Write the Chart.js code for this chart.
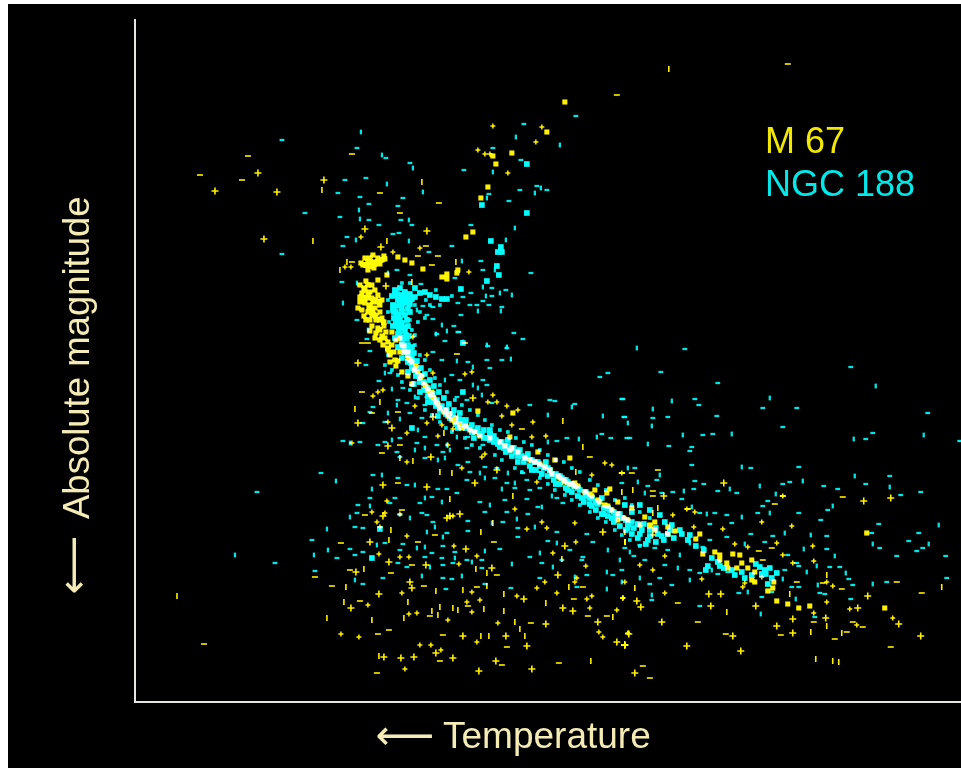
<!DOCTYPE html>
<html><head><meta charset="utf-8">
<style>
html,body{margin:0;padding:0;background:#fff;overflow:hidden}
#wrap{position:absolute;left:8px;top:4px;width:953px;height:764px;background:#000;overflow:hidden}
canvas{display:block;filter:blur(0.4px)}
</style>
<script src="https://cdn.jsdelivr.net/npm/chart.js@4"></script>
</head><body><div id="wrap"><canvas id="c" width="959" height="764"></canvas></div>
<script>
// Values. x: temperature position (arbitrary, no ticks), y: magnitude position (grows downward).
const seriesNames = ["M 67", "NGC 188"];
const xTitle = "Temperature", yTitle = "Absolute magnitude", arrowGlyph = "\u27F5";

const m67Cross = [[258,173],[277,192],[324,180],[365,229],[427,231],[381,247],[264,239],[215,191],[386,286],[358,363],[433,417],[358,423],[392,428],[473,398],[388,446],[431,457],[497,470],[475,483],[383,485],[427,487],[450,516],[447,518],[460,514],[383,516],[370,542],[603,532],[565,546],[466,549],[389,562],[426,565],[356,572],[492,568],[558,575],[410,582],[412,588],[379,594],[524,599],[351,608],[563,608],[573,611],[546,624],[598,622],[617,642],[625,645],[463,636],[506,636],[527,646],[436,653],[384,657],[401,658],[414,657],[453,658],[496,661],[479,671],[532,669],[664,496],[724,483],[864,501],[709,594],[637,601],[641,607],[868,596],[858,608],[662,622],[921,636],[625,645],[687,646],[741,651],[635,673],[629,634],[793,633],[891,498],[756,606],[721,594],[733,636],[711,606],[899,624],[793,619],[777,626],[826,618]];
const m67Dash = [[248,156],[200,175],[242,180],[352,154],[380,193],[439,203],[400,213],[426,246],[418,256],[438,256],[352,262],[432,265],[788,64],[617,95],[204,644],[362,343],[368,343],[362,392],[372,413],[398,412],[457,354],[465,343],[382,453],[400,445],[522,429],[398,483],[365,515],[402,510],[418,542],[435,535],[341,543],[494,542],[412,565],[350,570],[315,577],[391,573],[497,575],[332,586],[424,586],[477,587],[583,587],[360,601],[574,599],[468,606],[430,616],[531,623],[588,616],[607,616],[378,634],[389,630],[443,635],[507,647],[440,661],[502,665],[559,663],[377,673],[590,457],[622,473],[658,470],[632,473],[622,473],[653,491],[653,496],[843,497],[783,496],[775,504],[759,551],[772,548],[797,582],[823,583],[897,582],[842,589],[678,603],[922,593],[698,622],[814,622],[853,622],[863,627],[726,634],[781,635],[847,632],[835,639],[643,666],[650,678],[891,647],[688,509],[763,560]];
const m67Tick = [[669,69],[177,596],[322,190],[313,241],[422,182],[387,241],[347,262],[340,270],[456,262],[412,282],[380,402],[355,409],[444,433],[400,458],[413,461],[440,472],[452,473],[513,496],[450,499],[391,530],[389,540],[481,532],[493,523],[625,532],[625,542],[562,559],[364,569],[476,569],[487,573],[346,587],[436,591],[463,590],[487,586],[504,594],[569,587],[344,602],[408,602],[546,603],[440,607],[453,608],[458,610],[484,609],[504,611],[327,618],[372,620],[404,618],[432,611],[438,615],[515,622],[520,629],[613,617],[481,636],[489,636],[525,636],[379,656],[591,661],[658,508],[625,542],[635,588],[790,594],[827,575],[942,587],[827,626],[811,632],[842,633],[816,659],[833,661],[839,662],[563,421],[583,447],[576,472],[633,490],[653,513],[727,612],[622,492]];
const m67Hook = [[361,237],[393,252],[420,248],[345,267],[351,267],[493,126],[478,150],[485,154],[490,154],[508,173],[536,142],[542,127],[469,272],[373,396],[378,392],[383,390],[415,406],[413,337],[427,355],[433,373],[465,374],[472,372],[407,433],[388,422],[427,423],[442,425],[438,436],[453,429],[488,402],[497,402],[493,395],[507,406],[502,416],[518,410],[512,425],[533,422],[532,437],[546,436],[352,443],[448,445],[482,457],[485,454],[407,462],[462,468],[537,482],[387,501],[385,513],[372,512],[400,514],[377,522],[380,527],[453,516],[407,536],[515,509],[527,529],[547,528],[542,522],[575,523],[576,542],[553,553],[454,546],[409,557],[400,557],[379,554],[477,556],[459,564],[586,566],[577,578],[575,582],[545,582],[537,588],[472,592],[402,593],[517,596],[557,593],[623,598],[592,596],[587,599],[480,600],[467,602],[368,605],[472,612],[590,608],[617,610],[409,614],[417,613],[448,620],[498,623],[628,633],[599,632],[603,637],[341,634],[359,637],[477,642],[420,645],[431,645],[441,650],[405,669],[592,475],[605,463],[612,465],[622,473],[687,509],[695,512],[673,515],[762,522],[792,526],[694,527],[723,529],[735,544],[748,547],[777,543],[813,546],[783,555],[793,563],[814,561],[762,577],[745,583],[743,587],[827,582],[833,586],[665,556],[640,565],[653,570],[665,593],[625,582],[702,579],[623,598],[827,602],[814,613],[850,609],[893,618],[857,625],[783,496],[653,535]];
const m67Blob = [[565,102],[547,132],[493,156],[512,153],[496,164],[488,187],[481,198],[473,232],[466,237],[398,257],[405,260],[412,263],[423,269],[447,274],[442,277],[447,279],[458,270],[457,273],[387,275],[370,258],[373,255],[372,262],[377,262],[382,260],[366,265],[371,266],[375,264],[363,265],[368,270],[385,259],[361,263],[368,285],[372,285],[365,290],[370,292],[375,290],[378,295],[362,293],[372,298],[367,298],[378,302],[365,303],[370,305],[375,308],[380,305],[362,310],[368,312],[374,314],[380,312],[364,316],[370,320],[376,320],[382,318],[372,326],[378,328],[384,326],[376,333],[382,336],[386,332],[380,340],[383,345],[388,350],[390,355],[395,360],[388,348],[390,353],[398,361],[378,280],[360,302],[366,281],[358,308],[513,413],[478,411],[460,427],[510,437],[570,458],[555,460],[538,452],[575,483],[565,482],[607,493],[610,489],[595,490],[618,502],[618,520],[632,508],[645,517],[655,522],[668,527],[675,531],[650,525],[700,534],[696,539],[867,533],[703,554],[715,552],[720,555],[733,554],[740,555],[720,560],[752,560],[727,563],[728,568],[742,563],[737,568],[748,568],[755,572],[752,580],[755,582],[768,591],[774,582],[773,588],[777,601],[788,604],[799,608],[810,606],[885,608],[402,345],[408,358],[414,370],[420,378],[428,390],[436,402],[444,412],[452,420],[470,430],[490,438],[505,446],[518,452],[530,460],[545,467],[558,476],[570,484],[585,492],[598,500],[612,510],[624,518],[640,525],[655,530],[668,534],[400,352],[396,340],[392,332],[432,396],[460,424],[365,258],[378,258],[368,262],[380,264],[374,268],[384,256],[360,285],[364,288],[368,295],[373,302],[364,298],[360,297],[369,308],[376,300],[382,300],[372,310],[376,316],[366,320],[372,315],[380,320],[384,322],[370,331],[375,338],[380,330],[385,338],[388,342],[392,345],[394,352],[396,366],[402,372],[408,376],[412,384],[390,362],[400,338],[404,346],[408,352],[412,362],[418,372],[424,384],[430,394],[434,398],[440,408],[448,416],[455,422],[462,428],[510,450],[525,458],[552,474],[564,480],[578,486],[592,496],[605,505],[618,514],[404,352],[410,360],[416,366],[422,376],[426,386],[432,392],[438,404],[446,410],[450,414],[456,418],[466,426],[475,432],[480,436],[500,442],[512,448],[535,462],[540,464],[550,470],[560,478],[575,486],[590,494],[600,502],[608,506],[628,520],[650,526]];

const ngcDash = [[361,132],[282,140],[357,148],[382,155],[386,158],[410,163],[413,168],[493,148],[524,124],[516,137],[521,160],[464,170],[493,172],[345,180],[366,178],[387,184],[338,193],[360,197],[423,192],[403,198],[537,186],[541,188],[547,190],[520,190],[535,193],[509,201],[489,194],[487,198],[369,204],[398,206],[359,210],[305,213],[340,217],[360,219],[369,220],[401,220],[409,220],[412,225],[379,225],[515,228],[471,225],[347,237],[356,240],[393,234],[399,233],[409,241],[343,246],[452,246],[506,240],[282,254],[429,252],[462,261],[481,261],[483,270],[495,270],[531,273],[397,270],[388,273],[410,275],[342,282],[357,283],[421,284],[455,278],[483,287],[492,288],[506,290],[512,295],[471,293],[463,297],[486,296],[483,301],[492,296],[500,293],[470,305],[477,305],[478,311],[489,305],[502,307],[501,311],[458,303],[461,315],[343,303],[423,306],[433,307],[417,310],[427,315],[433,319],[442,325],[454,326],[437,334],[447,331],[458,332],[445,341],[463,342],[514,333],[523,339],[487,345],[507,348],[357,320],[368,330],[367,339],[576,116],[560,145],[370,351],[366,365],[385,373],[390,373],[379,381],[392,389],[403,388],[412,385],[436,334],[459,332],[488,346],[507,347],[433,352],[442,360],[457,361],[468,362],[487,360],[473,367],[490,368],[502,360],[511,359],[608,373],[600,377],[445,380],[452,375],[460,380],[473,385],[483,380],[487,385],[478,388],[457,397],[467,400],[482,395],[492,403],[530,405],[548,415],[550,400],[555,401],[572,407],[575,404],[622,399],[603,416],[625,417],[602,434],[597,437],[611,438],[627,438],[579,439],[567,438],[557,441],[548,442],[373,407],[370,412],[388,413],[398,400],[407,403],[415,397],[425,405],[427,397],[397,405],[410,413],[422,418],[400,419],[385,422],[363,423],[418,430],[425,437],[437,445],[447,445],[343,441],[360,442],[350,443],[378,445],[385,442],[392,440],[400,438],[417,443],[415,450],[397,452],[400,457],[425,448],[425,458],[443,452],[450,450],[467,448],[483,445],[457,437],[468,437],[473,433],[438,460],[468,462],[458,465],[445,458],[485,467],[497,468],[508,473],[523,473],[540,472],[480,473],[470,472],[467,480],[485,478],[495,478],[507,483],[515,483],[527,480],[515,488],[502,489],[540,488],[530,490],[552,496],[563,503],[557,498],[542,507],[527,499],[505,500],[490,505],[480,502],[507,512],[517,519],[528,514],[538,507],[336,481],[321,473],[373,475],[382,475],[398,478],[407,485],[415,485],[438,489],[447,489],[372,489],[395,498],[370,498],[425,498],[432,497],[420,503],[442,502],[457,493],[358,505],[370,506],[390,503],[422,513],[350,517],[357,513],[400,515],[410,518],[427,515],[433,522],[435,527],[468,521],[485,512],[492,523],[503,522],[518,528],[535,527],[557,532],[587,534],[327,529],[363,528],[355,527],[427,532],[447,533],[468,531],[443,537],[518,537],[548,541],[557,543],[593,542],[312,540],[377,545],[385,543],[403,544],[425,547],[443,546],[350,549],[328,550],[363,552],[355,555],[314,555],[337,558],[400,550],[417,548],[432,553],[455,552],[485,551],[500,549],[530,557],[540,553],[570,550],[583,557],[608,550],[425,557],[442,558],[455,558],[467,560],[482,560],[512,564],[398,563],[407,567],[430,567],[443,565],[453,563],[472,562],[482,568],[542,563],[553,567],[562,560],[582,560],[607,572],[622,570],[315,571],[355,580],[363,584],[383,578],[422,576],[443,578],[452,579],[462,576],[485,584],[540,578],[575,577],[587,575],[613,575],[622,582],[511,588],[446,589],[607,589],[577,587],[257,492],[235,555],[275,563],[685,349],[637,348],[661,372],[851,367],[876,386],[718,383],[623,399],[672,401],[695,399],[699,405],[770,398],[763,408],[797,408],[653,409],[653,418],[624,417],[628,423],[668,417],[717,416],[652,426],[928,413],[783,427],[683,435],[703,435],[713,434],[732,434],[630,438],[669,446],[648,444],[692,447],[690,451],[854,439],[866,439],[873,433],[924,435],[960,441],[692,465],[742,467],[751,468],[799,467],[628,468],[635,468],[622,483],[638,482],[657,480],[648,486],[660,475],[695,481],[704,484],[684,491],[694,489],[718,491],[730,489],[737,493],[673,492],[645,493],[662,493],[682,499],[760,486],[783,484],[790,482],[803,481],[824,486],[838,489],[855,476],[866,484],[890,476],[890,487],[901,495],[921,492],[776,494],[768,501],[763,506],[833,506],[828,510],[758,513],[770,513],[799,513],[821,520],[707,514],[715,513],[727,515],[742,517],[732,523],[710,524],[692,507],[700,513],[879,524],[939,525],[872,533],[919,533],[811,535],[827,536],[773,536],[785,533],[751,534],[727,537],[873,544],[880,548],[909,541],[929,544],[923,548],[917,551],[804,549],[765,542],[827,549],[835,556],[897,556],[946,556],[690,543],[703,547],[710,540],[745,544],[788,555],[797,563],[817,566],[830,567],[840,567],[846,573],[849,579],[853,585],[818,585],[820,593],[825,594],[807,572],[799,566],[785,570],[783,579],[792,587],[799,587],[873,584],[887,582],[947,578],[796,599],[851,599],[739,593],[748,592],[762,597],[772,592],[761,614],[815,617],[700,606],[652,595],[652,600],[640,545],[630,552],[655,548],[668,550],[680,555],[645,560],[665,565],[678,568],[690,570],[700,573],[712,570],[718,574],[728,572],[640,578],[660,578],[672,585],[690,580],[625,548],[634,556],[620,560],[650,584]];
const ngcFlank = [[415,345],[420,355],[408,340],[425,360],[385,365],[392,370],[398,375],[430,370],[435,378],[402,382],[410,390],[440,385],[447,392],[418,398],[425,410],[432,415],[455,400],[462,405],[470,410],[478,415],[440,422],[446,428],[452,432],[485,420],[492,425],[500,430],[465,438],[472,445],[480,448],[508,432],[516,438],[524,442],[495,455],[502,460],[532,445],[540,450],[548,455],[515,468],[522,472],[556,460],[564,462],[572,468],[580,472],[540,478],[548,484],[555,490],[590,480],[598,485],[606,490],[565,495],[572,500],[580,505],[615,500],[625,498],[632,505],[590,512],[598,518],[606,522],[615,530],[622,535],[640,512],[650,518],[630,540],[640,546],[412,330],[418,322],[425,318],[420,312],[430,305],[415,305],[440,305],[388,355],[452,296],[426,300],[436,290],[410,283],[402,283],[388,300],[388,312],[389,322],[410,320],[415,335]];
const ngcBlob = [[527,164],[482,205],[527,213],[491,241],[501,247],[498,252],[502,252],[497,266],[499,275],[487,281],[461,289],[463,343],[463,392],[412,428],[380,529],[372,558],[393,310],[397,318],[393,326],[399,330],[395,338],[402,340],[398,347],[405,352],[402,358],[408,362],[412,368],[408,372],[416,376],[420,382],[414,384],[424,390],[428,396],[420,392],[432,402],[436,406],[428,402],[440,410],[446,414],[438,416],[450,418],[456,424],[462,420],[466,428],[472,432],[458,428],[480,434],[484,438],[474,438],[490,440],[494,436],[498,444],[504,448],[490,430],[510,450],[516,452],[508,440],[522,456],[528,454],[518,462],[535,462],[540,466],[532,470],[548,468],[552,474],[546,462],[560,476],[566,480],[556,484],[572,484],[578,488],[568,490],[586,492],[590,498],[582,498],[596,502],[602,498],[592,506],[608,508],[614,512],[604,514],[620,514],[626,520],[612,518],[632,522],[638,524],[628,528],[644,524],[650,530],[640,534],[656,528],[662,536],[648,540],[668,534],[395,290],[400,288],[405,292],[410,294],[415,297],[420,293],[425,292],[430,295],[436,297],[442,299],[447,299],[395,295],[398,300],[393,305],[400,305],[396,312],[402,312],[394,318],[400,320],[398,326],[404,328],[400,335],[406,335],[403,342],[408,345],[405,350],[410,352],[412,358],[403,298],[408,300],[415,288],[632,512],[640,505],[650,510],[660,515],[665,522],[625,505],[672,525],[680,530],[690,535],[765,570],[760,567],[770,568],[777,573],[766,574],[762,574],[706,570],[720,566],[735,575],[745,578],[392,296],[397,294],[402,295],[407,297],[412,299],[400,300],[405,303],[410,304],[396,306],[402,308],[408,309],[394,312],[399,315],[405,315],[410,312],[396,322],[402,323],[407,320],[400,328],[405,330],[408,326],[398,334],[404,338],[409,336],[402,346],[407,350],[412,347],[408,355],[414,353],[411,363],[417,361],[415,370],[421,368],[419,376],[425,374],[424,382],[430,380],[428,388],[434,386],[433,394],[439,392],[437,400],[444,398],[442,406],[449,404],[447,410],[454,410],[453,414],[460,413],[459,419],[466,420],[465,425],[472,425],[470,428],[478,428],[476,431],[484,430],[482,434],[490,434],[488,438],[496,440],[494,442],[502,442],[500,447],[508,446],[506,452],[514,448],[512,456],[520,450],[518,456],[526,458],[524,462],[532,460],[530,466],[538,462],[536,470],[544,468],[542,474],[550,470],[548,476],[556,474],[554,480],[562,478],[560,484],[568,482],[566,488],[574,486],[572,492],[580,490],[578,496],[586,496],[584,502],[592,498],[590,504],[598,504],[596,510],[604,508],[602,514],[610,510],[608,516],[616,516],[614,522],[622,518],[620,526],[628,524],[626,530],[634,528],[632,534],[642,530],[638,538],[650,536],[646,544],[658,534],[656,542],[664,540],[670,530],[674,538],[682,534],[688,540],[696,546],[704,550],[712,558],[718,562],[708,566],[724,568],[732,570],[742,572],[752,575],[756,564],[772,578],[768,584]];

const MINX = 135, MAXX = 961, TOPY = 20, BOTY = 702;
const YEL = "#fff000", CYA = "#00ffff", CYD = "#00e6e6", CREAM = "#f4ecb4", AXIS = "#e6e6e0";
const pts = a => a.map(p => ({x:p[0], y:p[1]}));

const additive = {
  id:"additive",
  beforeDatasetsDraw(c){ c.ctx.save(); c.ctx.globalCompositeOperation = "lighter"; },
  afterDatasetsDraw(c){ c.ctx.restore(); }
};
const labels = {
  id:"labels",
  afterDraw(c){
    const g = c.ctx, ox = 8, oy = 4;
    g.save();
    g.textBaseline = "alphabetic"; g.textAlign = "left";
    g.font = '36px "Liberation Sans"';
    g.fillStyle = "#f2e800"; g.fillText(seriesNames[0], 765-ox, 153-oy);
    g.fillStyle = "#00e8e8"; g.fillText(seriesNames[1], 765-ox, 196-oy);
    g.fillStyle = CREAM;
    g.font = '37px "Liberation Sans"';
    g.fillText(xTitle, 443-ox, 748-oy);
    g.font = '36.5px "Liberation Sans"';
    g.save(); g.translate(89-ox, 519-oy); g.rotate(-Math.PI/2); g.fillText(yTitle, 0, 0); g.restore();
    g.font = '41px "DejaVu Sans"'; g.textAlign = "center";
    g.fillText(arrowGlyph, 405-ox, 749-oy);
    g.save(); g.translate(87-ox, 565-oy); g.rotate(-Math.PI/2); g.fillText(arrowGlyph, 0, 0); g.restore();
    g.restore();
  }
};
const ds = (label,data,color,style,radius,width,rot) => ({label,data:pts(data),pointStyle:style,pointRadius:radius,pointBorderWidth:width,pointRotation:rot||0,pointBackgroundColor:color,pointBorderColor:color,showLine:false,clip:false});

new Chart(document.getElementById("c"),{
  type:"scatter",
  data:{datasets:[
    ds("M 67",m67Blob,YEL,"rect",3.6,0),
    ds("M 67",m67Dash,YEL,"line",3,1.6),
    ds("M 67",m67Tick,YEL,"line",3,1.6,90),
    ds("M 67",m67Hook,YEL,"cross",2.5,1.5),
    ds("M 67",m67Cross,YEL,"cross",3.5,1.6),
    ds("NGC 188",ngcBlob,CYA,"rect",4,0),
    ds("NGC 188",ngcFlank,CYD,"rect",2.6,0),
    ds("NGC 188",ngcDash,CYD,"line",2.4,2.3,c=>c.dataIndex%3===0?90:0)
  ]},
  options:{
    responsive:false,animation:false,
    events:[],
    layout:{padding:{left:MINX-8,top:TOPY-4,right:0,bottom:764-(BOTY-4)}},
    plugins:{legend:{display:false},tooltip:{enabled:false},title:{display:false}},
    scales:{
      x:{type:"linear",min:MINX,max:MAXX,grid:{display:false,drawTicks:false},ticks:{display:false,padding:0},border:{color:AXIS,width:2}},
      y:{type:"linear",reverse:true,min:TOPY,max:BOTY,grid:{display:false,drawTicks:false},ticks:{display:false,padding:0},border:{color:AXIS,width:2}}
    }
  },
  plugins:[additive,labels]
});
</script></body></html>
